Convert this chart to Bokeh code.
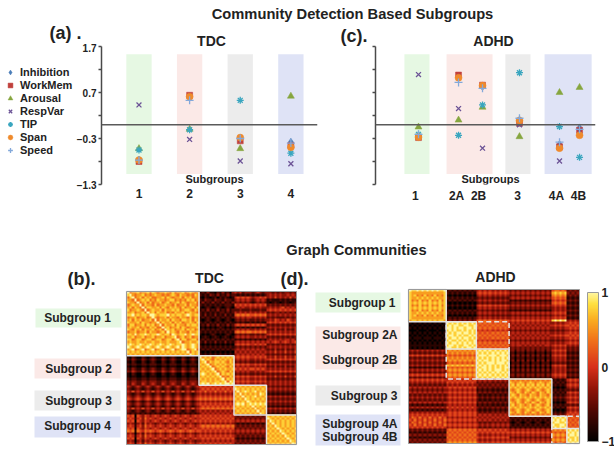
import numpy as np
from bokeh.embed import file_html
from bokeh.resources import INLINE
from bokeh.plotting import figure
from bokeh.layouts import column, row
from bokeh.models import (Label, Legend, LegendItem, Range1d, FixedTicker, Span,
                          LinearColorMapper, ColorBar, LinearScale)

# ---------- data ----------
measures = ["Inhibition", "WorkMem", "Arousal", "RespVar", "TIP", "Span", "Speed"]
tdc_x = [1, 2, 3, 4]
tdc_labels = ["1", "2", "3", "4"]
tdc_inhibition = [-0.77, 0.61, -0.30, -0.38]
tdc_workmem = [-0.80, 0.64, -0.35, -0.45]
tdc_arousal = [-0.52, -0.10, -0.52, 0.62]
tdc_respvar = [0.43, -0.32, -0.79, -0.85]
tdc_tip = [-0.55, -0.11, 0.53, -0.62]
tdc_span = [-0.77, 0.61, -0.28, -0.49]
tdc_speed = [-0.77, 0.53, -0.30, -0.40]

adhd_x = [1, 2.82, 3.91, 5.59, 7.41, 8.32]
adhd_tick_x = [0.86, 2.73, 3.73, 5.5, 7.27, 8.27]
adhd_labels = ["1", "2A", "2B", "3", "4A", "4B"]
adhd_inhibition = [-0.24, 1.04, 0.83, 0.10, -0.43, -0.07]
adhd_workmem = [-0.28, 1.08, 0.86, 0.03, -0.48, -0.12]
adhd_arousal = [-0.05, 0.10, 0.38, -0.26, 0.70, 0.81]
adhd_respvar = [1.09, 0.35, -0.51, 0.00, -0.79, -0.14]
adhd_tip = [-0.21, -0.23, 0.43, 1.13, -0.04, -0.71]
adhd_span = [-0.27, 1.02, 0.85, 0.09, -0.51, -0.23]
adhd_speed = [-0.21, 0.92, 0.79, 0.14, -0.38, -0.10]

y_labelled = [1.7, 0.7, -0.3, -1.3]
y_minor = [1.2, 0.2, -0.8]

# Connectivity estimated from the picture as levels 0 (r=-1) .. 9 (r=+1); blocks separated by spaces
tdc_rows = [
 "96778677868767787686778678767 12131102131203 4342333234323 332323233232",
 "89767786767877676787687767687 21213213121312 2121212121212 343434334343",
 "68967868786677868767786878677 10210120212101 4545454344545 343534343534",
 "77696787867687767886767687867 21322132213221 3434343234343 121112121211",
 "87769678686778678677868767786 13121312131213 2323232123232 101210121012",
 "67877968776867787768677868776 21212121212221 5454545454545 232323232323",
 "78687696887786876878768677868 10121012101210 3434334343433 343434534343",
 "86778769678778687787867887687 12131213121312 2232223222322 454545454545",
 "77867786978687786768778678776 21212121221212 4343434343434 232332323232",
 "88978788799878889787887898788 21312131213121 5656565565656 343434343434",
 "67786778679767786877687768677 12121212121212 3434344343434 232322232323",
 "78687867786968778687768878687 10121012101210 2323232232323 343543435434",
 "87778687767796877868786778768 21212121212121 1212112121211 454545454545",
 "68867786878679687786877687887 12131213121312 4545454545454 232323232323",
 "78778677687866978677868767778 01010101210101 2121212121212 343434343434",
 "87687868778678698786778687867 12121212121212 3434343343434 232423242324",
 "67786778687767869787687768778 21212121212121 5656566565656 343434343434",
 "88797889878898788698788978988 10101210101210 2323232232323 454545454545",
 "77867786778677867789678678677 01210121012101 3434343343434 232323232323",
 "88678867886788678868968867886 12121212121212 1212121212121 343434344343",
 "78778778778778778777896778778 21312131213121 3434343434343 434543454345",
 "89878987898789878987889878987 10101010101010 4545454454545 232323232323",
 "98789878987898789878979878987 21212121212121 2323232323232 343434343434",
 "78967896789678967896789967896 12121212121212 3434343434343 232423242324",
 "87878787878787878787878796878 10101010101010 4343434343434 343534353435",
 "78787878787878787878787879878 21212121212121 3434343434343 232323232323",
 "10210021012100210121002101210 97878678787878 4545454454545 343534353435",
 "21321132123211321232113212321 89787687878787 3434343343434 454545454545",
 "10210021012100210121002101210 78968788787687 2323232232323 232323232323",
 "21221122122211221222112212221 87896787878778 4545454454545 343434343434",
 "10110011011100110111001101110 78789678787687 3434343343434 232423242324",
 "21321132123211321232113212321 87878967878778 5454545545454 343434343434",
 "32432243234322432343224323432 78787896787687 3434343343434 454545454545",
 "10210021012100210121002101210 89878789687878 2323232232323 232323232323",
 "10110011011100110111001101110 78787878967687 4545454454545 343534353435",
 "21221122122211221222112212221 87878787896878 3434343343434 232323232323",
 "32332233233322332333223323332 78878788789698 4545454454545 343434343434",
 "32432243234322432343224323432 89897898989989 3434343343434 343434343434",
 "43234323432343234323432343234 54545454545454 8787878787878 232323232323",
 "32123212321232123212321232123 45454545454545 9878787878787 343434343434",
 "43534353435343534353435343534 54645464546454 7978987897878 232323232323",
 "32123212321232123212321232123 43434343434343 8797878787987 121212121212",
 "43234323432343234323432343234 54545454545454 7879787897878 343434343434",
 "54345434543454345434543454345 65656565656565 8787987878787 232323232323",
 "32123212321232123212321232123 43434343434343 7878798787878 343434343434",
 "43234323432343234323432343234 54545454545454 8989789898989 232323232323",
 "32123212321232123212321232123 45454545454545 7878787978787 121212121212",
 "43534353435343534353435343534 56565656565656 8787878797878 343434343434",
 "32123212321232123212321232123 43434343434343 7878787879787 232323232323",
 "21212121212121212121212121212 34343434343434 8787878787987 121212121212",
 "54505435434543454345434543454 54545454545454 3232323232323 878787878787",
 "45414536454345434543454345434 45454545454545 2323232323232 987878787878",
 "54505435434543454345434543454 54545454545454 3434343434343 798787878787",
 "34313425343234323432343234323 43434343434343 2121212121212 879787878787",
 "45414536454345434543454345434 56565656565656 3232323232323 787987878787",
 "54505435434543454345434543454 45454545454545 2323232323232 878798787878",
 "65616546565456545654565456545 54545454545454 3434343434343 787879878787",
 "34303425343234323432343234323 43434343434343 2323232323232 878787987878",
 "45414536454345434543454345434 54545454545454 3232323232323 787878798787",
 "54505435434543454345434543454 45454545454545 2121212121212 878787879878",
 "34303424343234323432343234323 34343434343434 3232323232323 787878787987",
 "45414536454345434543454345434 54545454545454 2323232323232 878787878798",
]
adhd_rows = [
 "988989898989889 121212121212 3434343434343 23232323232323232 566565 23232",
 "877777777777778 212121212121 4545454545454 34343434343434343 787878 32323",
 "878676867686768 101010101010 3434343434343 23232323232323232 676767 23232",
 "877878787878778 212121212121 2323232323232 34343434343434343 565656 12121",
 "867686768676868 121212121212 3434343434343 12121212121212121 454545 23232",
 "878787878787878 101010101010 2323232323232 23232323232323232 565656 12121",
 "867686768676868 212121212121 4545454545454 34343434343434343 454545 23232",
 "878787878787878 101010101010 3434343434343 23232323232323232 343434 12121",
 "867686768676868 121212121212 2323232323232 12121212121212121 343434 23232",
 "877878787878778 212121212121 3434343434343 34343434343434343 454545 12121",
 "878676867686768 101010101010 2323232323232 23232323232323232 343434 23232",
 "877777777777778 121212121212 3434343434343 34343434343434343 454545 12121",
 "788787878787887 232323232323 5656565656565 45454545454545454 898989 34343",
 "101010101010101 989898989898 5656565656565 34343434343434343 343434 45454",
 "010101010101010 898998899889 6565656565656 43434343434343434 454545 54545",
 "101010101010101 998989989989 5656565656565 34343434343434343 343434 45454",
 "000100010001000 898988989898 4545454545454 23232323232323232 232323 34343",
 "101010101010101 989899899898 6565656565656 34343434343434343 343434 45454",
 "010101010101010 899898988989 5656565656565 43434343434343434 454545 54545",
 "101110111011101 989989899898 6565656565656 34343434343434343 343434 45454",
 "010101010101010 898898989889 4545454545454 23232323232323232 232323 34343",
 "101010101010101 989989898989 5656565656565 34343434343434343 343434 45454",
 "111111111111111 899898899898 6565656565656 34344343434343443 454545 34343",
 "101010101010101 998898989989 5656565656565 23232323232323232 343434 23232",
 "343434343434343 676767676767 8989898989898 23132313231323132 454545 23232",
 "232323232323232 767676767676 9898989898989 12021202120212021 343434 12121",
 "454545454545454 656565656565 8999899989998 13131313131313131 454545 23232",
 "232323232323232 767676767676 9898989898989 12021202120212021 343434 12121",
 "343434343434343 676767676767 8989989898998 13031303130313031 343434 23232",
 "232323232323232 565656565656 9898999899989 02120212021202120 232323 12121",
 "343434343434343 878787878787 8989898989898 13131313131313131 454545 23232",
 "121212121212121 565656565656 9899898989899 02020202020202020 343434 12121",
 "343434343434343 676767676767 8989898999898 13131313131313131 343434 23232",
 "232323232323232 565656565656 9898989898989 12121212121212121 343434 12121",
 "454545454545454 676767676767 8989898989898 23132313231323132 454545 23232",
 "232323232323232 565656565656 9898989898989 12121212121212121 343434 12121",
 "454545454545454 454545454545 3434343434343 76767676767676767 121212 45454",
 "343434343434343 545454545454 2323232323232 87678767876787678 212121 34343",
 "232323232323232 434343434343 3232323232323 78687868786878687 121212 45454",
 "434343434343434 454545454545 2323232323232 87878787878787878 010101 34343",
 "323232323232323 343434343434 1212121212121 76787678767876787 121212 23232",
 "434343434343434 454545454545 2323232323232 87687687687687687 212121 45454",
 "232323232323232 343434343434 2121212121212 78768776877687768 121212 34343",
 "343434343434343 454545454545 3232323232323 87878787878787878 232323 45454",
 "232323232323232 343434343434 2121212121212 76787678767876787 121212 34343",
 "434343434343434 454545454545 2323232323232 87687687687687687 010101 45454",
 "212121212121212 343434343434 1212121212121 78678767867876786 121212 23232",
 "343434343434343 545454545454 3232323232323 87878787878787878 212121 45454",
 "212121212121212 343434343434 2121212121212 76787678767876787 010101 34343",
 "343434343434343 454545454545 3232323232323 87687687687687687 121212 45454",
 "454545454545454 454545454545 3434343434343 76767676767676767 232323 54545",
 "465464546454645 343434343434 4343434343434 12121212121212121 898989 65656",
 "546454645464546 454545454545 3434343434343 21212121212121212 989898 56565",
 "465464546454645 343434343434 3232323232323 10121012101210121 899889 65656",
 "546454645464546 454545454545 4343434343434 21212121212121212 988998 56565",
 "454545454545454 343434343434 3232323232323 12121212121212121 898989 65656",
 "232323232323232 565656565656 4545454545454 34343434343434343 676767 89898",
 "121212121212121 656565656565 5454545454545 45454545454545454 656565 98989",
 "323232323232323 565656565656 4343434343434 34343434343434343 767676 89989",
 "121212121212121 656565656565 5454545454545 23232323232323232 656565 98898",
 "323232323232323 565656565656 4343434343434 34343434343434343 767676 89898",
 "232323232323232 676767676767 5454545454545 45454545454545454 656565 98989",
]
tdc_col_edges = [0, 29, 43, 56, 68]
tdc_row_edges = [0, 26, 38, 50, 62]
adhd_col_edges = [0, 15, 27, 40, 57, 63, 68]
adhd_row_edges = [0, 13, 24, 36, 51, 56, 62]

# ---------- styles ----------
FONT = "Liberation Sans"
INK = "#222222"
AXIS = "#4a4a4a"
BANDS = ["#e6f8e3", "#fbe9e7", "#ececec", "#dfe3f6"]
STYLE = {
    "Inhibition": dict(marker="diamond", color="#4a7db8", size=8),
    "WorkMem": dict(marker="square", color="#c0403c", size=6),
    "Arousal": dict(marker="triangle", color="#86a63f", size=7),
    "RespVar": dict(marker="x", color="#6c5396", size=7),
    "TIP": dict(marker="asterisk", color="#3aa6bf", size=7),
    "Span": dict(marker="circle", color="#ef8a2c", size=7),
    "Speed": dict(marker="cross", color="#84a9da", size=8),
}
PAGE_W = 614
HEAD_H, HEAD_OVERLAP = 53, 10


def lab(p, fl, fb, px, py, text, size=11, align="center", bold=True):
    """Label given by its position on the page; fl, fb are the frame's left and bottom on the page."""
    p.add_layout(Label(x=px - fl, y=fb - py, x_units="screen", y_units="screen", text=text,
                       text_font=FONT, text_font_size=f"{size}px",
                       text_font_style="bold" if bold else "normal", text_color=INK,
                       text_align=align, text_baseline="middle"))


def blank(width, height, xr=(0, 1), yr=(0, 1)):
    p = figure(width=width, height=height, output_backend="svg", toolbar_location=None,
               x_range=Range1d(*xr), y_range=Range1d(*yr),
               min_border_left=0, min_border_right=0, min_border_top=0, min_border_bottom=0)
    p.axis.visible = False
    p.grid.visible = False
    p.outline_line_color = None
    return p


def panel(width, height, b_left, b_right, b_top, b_bottom, xr):
    p = figure(width=width, height=height, output_backend="svg", toolbar_location=None,
               x_range=Range1d(*xr), y_range=Range1d(-1.3, 1.7),
               min_border_left=b_left, min_border_right=b_right,
               min_border_top=b_top, min_border_bottom=b_bottom)
    p.outline_line_color = None
    p.grid.visible = False
    p.background_fill_alpha = 0
    p.border_fill_alpha = 0
    ax = p.yaxis[0]
    ax.ticker = FixedTicker(ticks=y_labelled, minor_ticks=y_minor)
    ax.axis_line_color = AXIS
    ax.axis_line_width = 1.5
    ax.major_tick_line_color = AXIS
    ax.minor_tick_line_color = AXIS
    ax.major_tick_line_width = 1.5
    ax.minor_tick_line_width = 1.5
    ax.major_tick_out = 3
    ax.major_tick_in = 0
    ax.minor_tick_out = 3
    ax.minor_tick_in = 0
    ax.major_label_standoff = 2
    ax.major_label_text_font = FONT
    ax.major_label_text_font_style = "bold"
    ax.major_label_text_font_size = "10px"
    ax.major_label_text_color = INK
    xa = p.xaxis[0]
    xa.axis_line_color = None
    xa.major_tick_line_color = None
    xa.minor_tick_line_color = None
    xa.major_label_standoff = -2
    xa.major_label_text_font = FONT
    xa.major_label_text_font_style = "bold"
    xa.major_label_text_font_size = "12px"
    xa.major_label_text_color = INK
    return p


def draw_series(p, xs, series):
    out = {}
    for name, ys in zip(measures, series):
        st = STYLE[name]
        out[name] = p.scatter(xs, ys, marker=st["marker"], size=st["size"], fill_color=st["color"],
                              line_color=st["color"],
                              line_width=1.3 if st["marker"] in ("x", "asterisk", "cross") else 0.5)
    return out


def levels(rows, col_edges):
    widths = np.diff(col_edges)
    out = []
    for r in rows:
        cells = []
        for block, w in zip(r.split(), widths):
            cells += [int(c) for c in (block * 2)[:w]]
        out.append(cells)
    return -1 + 2 * np.array(out, dtype=float) / 9


# ---------- header: everything above the two scatter panels ----------
head = blank(PAGE_W, HEAD_H)
lab(head, 0, HEAD_H, 352, 13, "Community Detection Based Subgroups", size=14.7)
lab(head, 0, HEAD_H, 49, 32, "(a) .", size=18, align="left")
lab(head, 0, HEAD_H, 211, 40, "TDC", size=14)
lab(head, 0, HEAD_H, 340, 35, "(c).", size=18, align="left")
lab(head, 0, HEAD_H, 493, 40, "ADHD", size=14)

# ---------- legend column ----------
lg = blank(73, 162)
lg.background_fill_alpha = 0
lg.border_fill_alpha = 0
lg_r = {}
for name in measures:
    st = STYLE[name]
    lg_r[name] = lg.scatter([-1], [-1], marker=st["marker"], size=st["size"], fill_color=st["color"],
                            line_color=st["color"],
                            line_width=1.3 if st["marker"] in ("x", "asterisk", "cross") else 0.5)
legend = Legend(items=[LegendItem(label=m, renderers=[lg_r[m]]) for m in measures],
                location=(4, 28), orientation="vertical", padding=0, margin=0, spacing=1,
                glyph_width=12, glyph_height=12, label_height=12, label_standoff=4,
                label_text_font=FONT, label_text_font_size="11px", label_text_font_style="bold",
                label_text_color=INK, background_fill_alpha=0, border_line_color=None)
lg.add_layout(legend)

# ---------- panel (a) ----------
pa = panel(262, 162, 25, 18, 3, 18, (0.2597, 4.526))
pa.vbar(x=tdc_x, width=0.5, bottom=-1.07, top=1.53, color=BANDS, line_color=None)
pa.add_layout(Span(location=0, dimension="width", line_color="#5a5a5a", line_width=1.5))
draw_series(pa, tdc_x, [tdc_inhibition, tdc_workmem, tdc_arousal, tdc_respvar, tdc_tip, tdc_span, tdc_speed])
pa.xaxis[0].ticker = FixedTicker(ticks=tdc_x)
pa.xaxis[0].major_label_overrides = {k: v for k, v in zip(tdc_x, tdc_labels)}
lab(pa, 98, 187, 211, 181, "Subgroups", size=11)

# ---------- panel (c) ----------
pc = panel(279, 162, 40, 19, 3, 18, (-0.9545, 9.0455))
pc.yaxis[0].major_label_overrides = {v: "" for v in y_labelled}
pc.vbar(x=[0.93, 3.32, 5.52, 7.80], width=[1.14, 2.09, 1.14, 2.14], bottom=-1.07, top=1.53,
        color=BANDS, line_color=None)
pc.add_layout(Span(location=0, dimension="width", line_color="#5a5a5a", line_width=1.5))
draw_series(pc, adhd_x, [adhd_inhibition, adhd_workmem, adhd_arousal, adhd_respvar, adhd_tip, adhd_span, adhd_speed])
pc.xaxis[0].ticker = FixedTicker(ticks=adhd_tick_x)
pc.xaxis[0].major_label_overrides = {k: v for k, v in zip(adhd_tick_x, adhd_labels)}
lab(pc, 375, 187, 490, 181, "Subgroups", size=11)

# ---------- heat maps, one canvas with a range for each matrix ----------
tdc_m = levels(tdc_rows, tdc_col_edges)
adhd_m = levels(adhd_rows, adhd_col_edges)

stops_v = [-1, -0.6, -0.3, 0, 0.35, 0.65, 0.85, 1]
stops_c = ["#000000", "#4d0802", "#8f1408", "#d8301a", "#f0701a", "#fbb022", "#ffe040", "#fff6a0"]
rgb = np.array([[int(c[i:i + 2], 16) for i in (1, 3, 5)] for c in stops_c], dtype=float)
grid = np.linspace(-1, 1, 256)
palette = ["#%02x%02x%02x" % tuple(int(round(np.interp(g, stops_v, rgb[:, k]))) for k in range(3)) for g in grid]
mapper = LinearColorMapper(palette=palette, low=-1, high=1)

CX, CY = 170 / tdc_m.shape[1], 153 / tdc_m.shape[0]
DX, DY = 171 / adhd_m.shape[1], 154 / adhd_m.shape[0]
H = 248
bot = blank(PAGE_W, H, ((0 - 126) / CX, (0 - 126) / CX + PAGE_W / CX),
            ((444 - 453) / CY, (444 - 453) / CY + H / CY))
bot.extra_x_ranges = {"d": Range1d((0 - 408) / DX, (0 - 408) / DX + PAGE_W / DX)}
bot.extra_y_ranges = {"d": Range1d((443 - 453) / DY, (443 - 453) / DY + H / DY)}
bot.extra_x_scales = {"d": LinearScale()}
bot.extra_y_scales = {"d": LinearScale()}


def bx(px):
    return (px - 126) / CX


def by(py):
    return (444 - py) / CY


def sharp(m, k=4):
    """Repeat each cell so the browser's image scaling keeps the stripes crisp."""
    return np.repeat(np.repeat(m[::-1], k, axis=0), k, axis=1)


side_bands = [
    (35, 121, 308, 327, BANDS[0]), (34, 120, 358, 378, BANDS[1]),
    (34, 120, 390, 410, BANDS[2]), (34, 120, 416, 437, BANDS[3]),
    (315, 400, 292, 312, BANDS[0]), (315, 400, 326, 369, BANDS[1]),
    (315, 400, 385, 405, BANDS[2]), (315, 400, 414, 445, BANDS[3]),
]
bot.quad(left=[bx(b[0]) for b in side_bands], right=[bx(b[1]) for b in side_bands],
         top=[by(b[2]) for b in side_bands], bottom=[by(b[3]) for b in side_bands],
         color=[b[4] for b in side_bands], line_color=None)

bot.image(image=[sharp(tdc_m)], x=0, y=0, dw=tdc_m.shape[1], dh=tdc_m.shape[0], color_mapper=mapper)
bot.image(image=[sharp(adhd_m)], x=0, y=0, dw=adhd_m.shape[1], dh=adhd_m.shape[0], color_mapper=mapper,
          x_range_name="d", y_range_name="d")

BOX = "#e4e4e4"
nb = tdc_m.shape[0]
bot.quad(left=tdc_col_edges[:-1], right=tdc_col_edges[1:],
         top=[nb - r for r in tdc_row_edges[:-1]], bottom=[nb - r for r in tdc_row_edges[1:]],
         fill_color=None, line_color=BOX, line_width=1.5)
bot.quad(left=[0], right=[tdc_m.shape[1]], top=[nb], bottom=[0], fill_color=None, line_color="#9a9a9a", line_width=1)

nd = adhd_m.shape[0]
bot.quad(left=adhd_col_edges[:-1], right=adhd_col_edges[1:],
         top=[nd - r for r in adhd_row_edges[:-1]], bottom=[nd - r for r in adhd_row_edges[1:]],
         fill_color=None, line_color=BOX, line_width=1.5, x_range_name="d", y_range_name="d")
bot.quad(left=[adhd_col_edges[1], adhd_col_edges[4]], right=[adhd_col_edges[3], adhd_col_edges[6]],
         top=[nd - adhd_row_edges[1], nd - adhd_row_edges[4]], bottom=[nd - adhd_row_edges[3], nd - adhd_row_edges[6]],
         fill_color=None, line_color=BOX, line_width=1.5, line_dash="5 3", x_range_name="d", y_range_name="d")
bot.quad(left=[0], right=[adhd_m.shape[1]], top=[nd], bottom=[0], fill_color=None, line_color="#9a9a9a", line_width=1,
         x_range_name="d", y_range_name="d")

cb = ColorBar(color_mapper=mapper, location=(587, 12), width=11, height=149, padding=0, margin=0,
              ticker=FixedTicker(ticks=[-1, 0, 1]), major_tick_line_color=None, minor_tick_line_color=None,
              major_label_text_font=FONT, major_label_text_font_style="bold",
              major_label_text_font_size="12px", major_label_text_color=INK, label_standoff=3,
              bar_line_color="#9a9a9a", border_line_color=None, background_fill_alpha=0)
bot.add_layout(cb)

F = (0, 453)
lab(bot, *F, 356, 249, "Graph Communities", size=14.7)
lab(bot, *F, 67, 278, "(b).", size=18, align="left")
lab(bot, *F, 280, 278, "(d).", size=18, align="left")
lab(bot, *F, 209, 277, "TDC", size=14)
lab(bot, *F, 495, 276, "ADHD", size=14)
for t, x, y in [("Subgroup 1", 77, 317), ("Subgroup 2", 78, 368), ("Subgroup 3", 78, 400), ("Subgroup 4", 77, 425)]:
    lab(bot, *F, x, y, t, size=12)
for t, x, y in [("Subgroup 1", 395, 302), ("Subgroup 2A", 397, 334), ("Subgroup 2B", 397, 359),
                ("Subgroup 3", 397, 395), ("Subgroup 4A", 397, 423), ("Subgroup 4B", 397, 436)]:
    lab(bot, *F, x, y, t, size=12, align="right")

top_row = row(lg, pa, pc, spacing=0, margin=(-HEAD_OVERLAP, 0, 0, 0))
page = column(head, top_row, bot, spacing=0)
open("out.html", "w").write(file_html(page, INLINE))
